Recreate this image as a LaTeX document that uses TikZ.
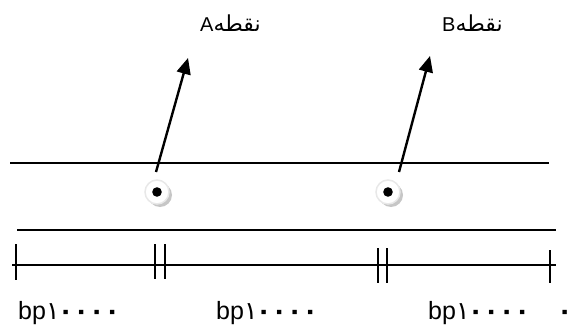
\documentclass[tikz,border=0pt]{standalone}
\usepackage{fontspec}
\setmainfont{Liberation Sans}
\newfontfamily\arabicfont[Script=Arabic]{DejaVu Sans}
\TeXXeTstate=1
\usetikzlibrary{arrows.meta}
\newcommand\bpnum{bp{\arabicfont\makebox[12pt][l]{١}\bfseries\makebox[15.5pt][c]{٠}\makebox[15.5pt][c]{٠}\makebox[15.5pt][c]{٠}\makebox[15.5pt][c]{٠}}}
\tikzset{
  hline/.style={line width=1.3pt},
  tick/.style={line width=1.1pt},
  ptr/.style={line width=2.4pt,-{Triangle[length=16pt,width=14pt]}},
  disc/.style={circle,fill=white,draw=gray!18,line width=1.5pt,minimum size=24pt,inner sep=0pt},
  shadowdisc/.style={circle,fill=gray!45,minimum size=24pt,inner sep=0pt},
  toplabel/.style={anchor=base west,inner sep=0pt,font=\fontsize{20}{22}\selectfont},
  bplabel/.style={anchor=base west,inner sep=0pt,font=\fontsize{25}{27}\selectfont},
}
\begin{document}
\begin{tikzpicture}[x=1pt,y=-1pt]
\useasboundingbox (0,0) rectangle (573,326);
% horizontal lines
\coordinate (u1) at (10,163); \coordinate (u2) at (549,163);
\coordinate (l1) at (17,230); \coordinate (l2) at (556,230);
\coordinate (s1) at (12,265); \coordinate (s2) at (556,265);
\draw[hline] (u1) -- (u2);
\draw[hline] (l1) -- (l2);
\draw[hline] (s1) -- (s2);
% ticks
\draw[tick] (16,244) -- (16,280);
\draw[tick] (155,244) -- (155,279);
\draw[tick] (165,244) -- (165,279);
\draw[tick] (378,248) -- (378,283);
\draw[tick] (387,248) -- (387,283);
\draw[tick] (550,250) -- (550,283);
% points
\node[shadowdisc] (sa) at (160,195) {};
\node[disc] (pa) at (157,192) {};
\fill (pa.center) circle (4.8);
\node[shadowdisc] (sb) at (391,195) {};
\node[disc] (pb) at (388,192) {};
\fill (pb.center) circle (4.8);
% arrows
\coordinate (aa) at (156,172); \coordinate (ta) at (188,58);
\coordinate (ab) at (399,172); \coordinate (tb) at (430,56);
\draw[ptr] (aa) -- (ta);
\draw[ptr] (ab) -- (tb);
% top labels
\node[toplabel] (la) at (200,32) {A{\arabicfont\fontsize{22}{24}\selectfont\beginR نقطه\endR}};
\node[toplabel] (lb) at (442,32) {B{\arabicfont\fontsize{22}{24}\selectfont\beginR نقطه\endR}};
% bottom labels
\node[bplabel] (b1) at (18,319) {\bpnum};
\node[bplabel] (b2) at (216,319) {\bpnum};
\node[bplabel] (b3) at (428,319) {\bpnum};
\node[bplabel] (b4) at (557,319) {\arabicfont\bfseries ٠};
\end{tikzpicture}
\end{document}
